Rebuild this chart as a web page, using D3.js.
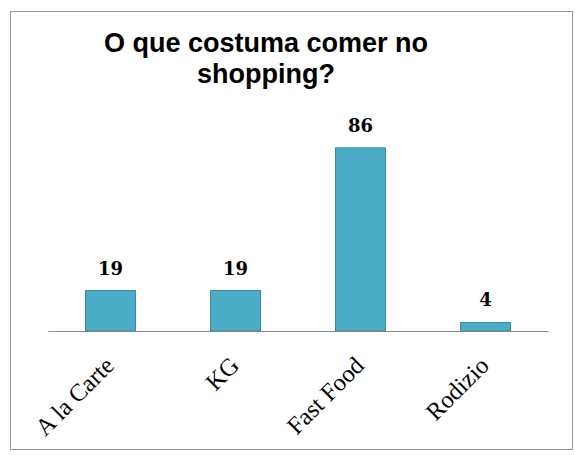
<!DOCTYPE html>
<html>
<head>
<meta charset="utf-8">
<script src="https://cdn.jsdelivr.net/npm/d3@7"></script>
<style>
  html, body { margin: 0; padding: 0; background: #fff; }
  svg { display: block; }
</style>
</head>
<body>
<svg id="chart" width="575" height="455"></svg>
<script>
// Survey answers: what people usually eat at the mall
const categories = ["A la Carte", "KG", "Fast Food", "Rodizio"];
const values = [19, 19, 86, 4];
const titleLines = ["O que costuma comer no", "shopping?"];

const svg = d3.select("#chart");

// outer frame
svg.append("rect")
  .attr("x", 10.5).attr("y", 11.5)
  .attr("width", 562).attr("height", 438)
  .attr("fill", "#fff")
  .attr("stroke", "#9a9a9a")
  .attr("stroke-width", 1);

// title
svg.append("text")
  .attr("x", 266).attr("y", 52)
  .attr("text-anchor", "middle")
  .attr("font-family", "Arial, 'Liberation Sans', sans-serif")
  .attr("font-weight", "bold")
  .attr("font-size", 27)
  .attr("fill", "#000")
  .selectAll("tspan")
  .data(titleLines)
  .join("tspan")
  .attr("x", 266)
  .attr("dy", (d, i) => i === 0 ? 0 : 31)
  .text(d => d);

const x = d3.scaleBand()
  .domain(categories)
  .range([48, 548])
  .paddingInner(0.6)
  .paddingOuter(0.3);

const y = d3.scaleLinear()
  .domain([0, 100])
  .range([331, 118]);

// bars
svg.append("g")
  .selectAll("rect")
  .data(values)
  .join("rect")
  .attr("x", (d, i) => x(categories[i]))
  .attr("y", d => y(d))
  .attr("width", x.bandwidth())
  .attr("height", d => y(0) - y(d))
  .attr("fill", "#4bacc6")
  .attr("stroke", "#3a8aa0")
  .attr("stroke-width", 1);

// category axis
const xAxis = svg.append("g")
  .attr("transform", `translate(0,${y(0)})`)
  .call(d3.axisBottom(x).tickSize(0).tickSizeOuter(0).tickPadding(0));
xAxis.select(".domain")
  .attr("stroke", "#888")
  .attr("stroke-width", 1.2);
xAxis.selectAll(".tick text")
  .attr("font-family", "'Liberation Serif', 'Times New Roman', serif")
  .attr("font-size", 24.5)
  .attr("fill", "#000")
  .attr("text-anchor", "end")
  .attr("dy", 0)
  .attr("transform", "translate(5,36) rotate(-45)");

// value labels
svg.append("g")
  .selectAll("text")
  .data(values)
  .join("text")
  .attr("x", (d, i) => x(categories[i]) + x.bandwidth() / 2)
  .attr("y", d => y(d) - 16)
  .attr("text-anchor", "middle")
  .attr("font-family", "'DejaVu Serif', serif")
  .attr("font-weight", "bold")
  .attr("font-size", 18)
  .attr("fill", "#000")
  .text(d => d);
</script>
</body>
</html>
